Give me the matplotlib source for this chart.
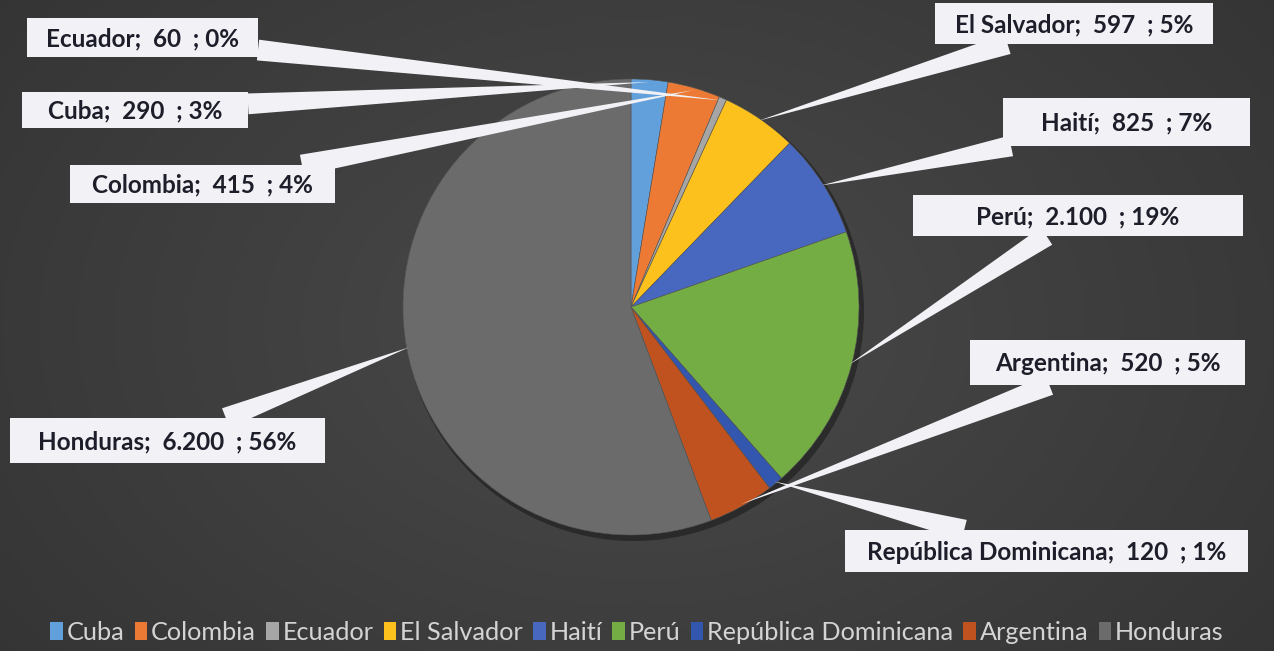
"""Pie chart of migrants by country of origin, Excel-style callout labels."""

import matplotlib.pyplot as plt
import numpy as np
from matplotlib.patches import Circle, Rectangle

W, H = 1274, 651

COUNTRIES = [
    "Cuba",
    "Colombia",
    "Ecuador",
    "El Salvador",
    "Haití",
    "Perú",
    "República Dominicana",
    "Argentina",
    "Honduras",
]
VALUES = [290, 415, 60, 597, 825, 2100, 120, 520, 6200]
PERCENTS = [3, 4, 0, 5, 7, 19, 1, 5, 56]

COLORS = [
    "#62a0dc",
    "#ec7a34",
    "#a6a6a6",
    "#fcc11c",
    "#4868c0",
    "#74ad44",
    "#3356ae",
    "#bf521f",
    "#6b6b6b",
]

# label boxes in pixel coords (x0, y0, x1, y1), y measured from the top
BOXES = [
    (22, 92, 248, 128),
    (70, 165, 335, 203),
    (27, 18, 258, 57),
    (935, 3, 1213, 44),
    (1003, 98, 1250, 146),
    (913, 195, 1243, 236),
    (845, 530, 1248, 572),
    (970, 340, 1245, 385),
    (10, 418, 325, 463),
]

CENTER = (631, 307)
RADIUS = 228
BOX_COLOR = "#f1f1f6"
TEXT_COLOR = "#1e1e2a"

plt.rcParams["font.family"] = ["Lato", "DejaVu Sans"]

fig = plt.figure(figsize=(W / 100, H / 100), dpi=100)
ax = fig.add_axes([0, 0, 1, 1])

# dark background (radial gradient)
yy, xx = np.mgrid[0:H, 0:W]
d = np.sqrt(((xx - W * 0.5) / (W * 0.6)) ** 2 + ((yy - H * 0.5) / (H * 0.8)) ** 2)
shade = np.clip(0.29 - 0.08 * d, 0.18, 0.29)
ax.imshow(
    np.dstack([shade, shade, shade]),
    extent=(0, W, H, 0),
    aspect="auto",
    zorder=0,
    interpolation="bilinear",
)

# soft shadow under the pie
ax.add_patch(Circle((CENTER[0] + 3, CENTER[1] + 4), RADIUS + 2, color="black",
                    alpha=0.35, zorder=1, lw=0))

# y axis runs downward, so counterclock in data = clockwise on screen
wedges, _ = ax.pie(
    VALUES,
    colors=COLORS,
    startangle=-90,
    counterclock=True,
    center=CENTER,
    radius=RADIUS,
    wedgeprops={"linewidth": 0.4, "edgecolor": "#555555"},
    frame=True,
)
for w in wedges:
    w.set_zorder(2)

for name, val, pct, box, wdg in zip(COUNTRIES, VALUES, PERCENTS, BOXES, wedges):
    x0, y0, x1, y1 = box
    rect = Rectangle((x0, y0), x1 - x0, y1 - y0, facecolor=BOX_COLOR,
                     edgecolor="none", zorder=5)
    ax.add_patch(rect)
    label = f"{name};  {val:,}  ; {pct}%".replace(",", ".")
    ax.text((x0 + x1) / 2, (y0 + y1) / 2 + 1, label, ha="center", va="center",
            fontsize=17.5, fontweight="bold", color=TEXT_COLOR, zorder=6)

    mid = np.deg2rad((wdg.theta1 + wdg.theta2) / 2)
    tip = (CENTER[0] + RADIUS * 0.99 * np.cos(mid),
           CENTER[1] + RADIUS * 0.99 * np.sin(mid))
    ax.annotate(
        "",
        xy=tip,
        xytext=((x0 + x1) / 2, (y0 + y1) / 2),
        arrowprops={
            "arrowstyle": "wedge,tail_width=0.75,shrink_factor=0.5",
            "mutation_scale": 20,
            "facecolor": BOX_COLOR,
            "edgecolor": "none",
            "patchA": rect,
            "shrinkA": 0,
            "shrinkB": 0,
        },
        zorder=4,
    )

ax.set_xlim(0, W)
ax.set_ylim(H, 0)
ax.set_axis_off()

leg = fig.legend(
    wedges,
    COUNTRIES,
    loc="center",
    bbox_to_anchor=(0.5, 1 - 632 / H),
    ncol=len(COUNTRIES),
    frameon=False,
    fontsize=18.2,
    handlelength=0.5,
    handleheight=0.7,
    handletextpad=0.15,
    columnspacing=0.4,
    labelcolor="#d4d4d4",
)
for h in leg.legend_handles:
    h.set_edgecolor("none")

fig.savefig("out.png", dpi=100)
